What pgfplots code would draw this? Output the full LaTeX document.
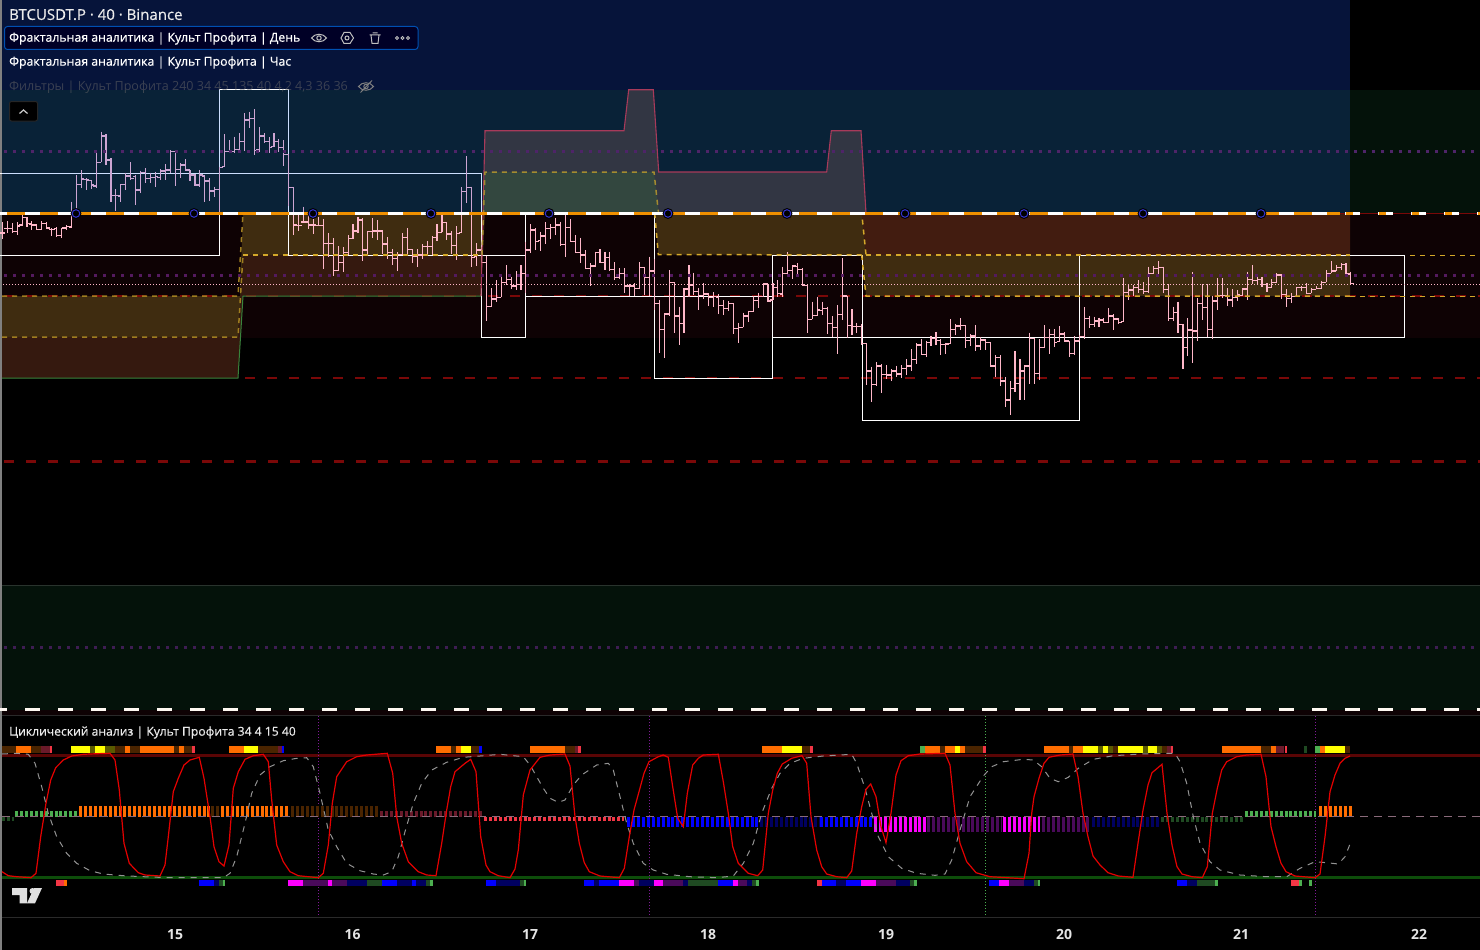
\documentclass[border=0pt]{standalone}
\usepackage{fontspec}
\setmainfont{Open Sans}
\newfontface\medf{Open Sans}[FakeBold=0.5]
\usepackage{pgfplots}
\usepackage{pgfplotstable}
\pgfplotsset{compat=1.18}

\definecolor{navy}{HTML}{06143A}
\definecolor{basetop}{HTML}{0C1307}
\definecolor{tint}{RGB}{0,97,250}
\definecolor{rightgreen}{HTML}{04120A}
\definecolor{maroon}{HTML}{0E0204}
\definecolor{botgreen}{HTML}{04120A}
\definecolor{olivez}{HTML}{3F2C10}
\definecolor{brownz}{HTML}{421C10}
\definecolor{brownl}{HTML}{35190F}
\definecolor{greyz}{HTML}{323643}
\definecolor{greenz}{HTML}{33473F}
\definecolor{edge}{HTML}{A83A5A}
\definecolor{dashy}{HTML}{D4A82A}
\definecolor{dred}{HTML}{7A0808}
\definecolor{dotp}{HTML}{4E2468}
\definecolor{dotq}{HTML}{541A5E}
\definecolor{midl}{HTML}{8A6A7A}
\definecolor{pinkbar}{HTML}{FFB7C9}
\definecolor{orangeL}{HTML}{F09000}
\definecolor{co}{HTML}{FF6D00}
\definecolor{cod}{HTML}{4A2400}
\definecolor{cy}{HTML}{FFFF00}
\definecolor{cyd}{HTML}{5A5A00}
\definecolor{cr}{HTML}{F23645}
\definecolor{crd}{HTML}{6A1A2A}
\definecolor{cg}{HTML}{4CAF50}
\definecolor{cgd}{HTML}{1F4A22}
\definecolor{cb}{HTML}{0000FF}
\definecolor{cbd}{HTML}{000060}
\definecolor{cm}{HTML}{FF00FF}
\definecolor{cmd}{HTML}{4A0A5A}
\definecolor{topred}{HTML}{5A0505}
\definecolor{botgr}{HTML}{0D4D0A}
\definecolor{sep}{HTML}{2A2A2A}

% OHLC bars: index, high, low, open, close (picture rows)
\pgfplotstableread{
i h l o c
0 222 239 233 233
1 221 233.3 228.3 228.3
2 223.3 232.7 228.3 231.7
3 222 235 231.7 226
4 214.7 226 225 217.3
5 217.3 226.7 217.3 223.3
6 221.3 230 224 225
7 224 230 225 229.3
8 221.3 230 229.3 223.3
9 222 229.3 223.3 228
10 228 236 229.3 229.3
11 227.3 236.7 228.3 235.3
12 228 238 235.7 228
13 225 230 228 226.7
14 201.7 228 227 212.7
15 175 212.7 212.7 184.3
16 170 188.3 184.3 179
17 178.3 190 179.3 180
18 180 189.3 180.7 185
19 153.3 188.3 186 162.3
20 131.7 162.3 162.3 136
21 134.3 165 136 160
22 158.3 201.7 160 195.7
23 189 211 195.7 195.7
24 184 202.3 196 184.7
25 172.7 190 184.7 176
26 162.3 180 176 178.3
27 175 205 176.7 190
28 170.7 192.7 190 172.7
29 168.3 183.3 172.7 178.7
30 172.7 182.7 178.7 177.3
31 171.7 187.3 177.3 176.7
32 169.3 180 177.3 171
33 164 180 171 170
34 150 172.7 170 151.7
35 150.7 186 151.7 169.3
36 163.3 177.7 169.3 165
37 159 171 165 170
38 170 180.7 170 175
39 174 186 175 185
40 170 187.3 185 175
41 175 201.7 176 181
42 178.3 200.7 181 191
43 186.7 196.7 191 189.3
44 167 212 189.3 167.7
45 134 166.7 166.7 151.7
46 140 153.3 151.7 151.7
47 136.7 153.3 151.7 149.3
48 133.3 153.3 149.3 141.7
49 113.3 150.7 141.7 120
50 111.7 128.3 120 118.3
51 109.3 155 118.3 150.7
52 127.3 151.7 150 136
53 133.3 143.3 136 141.7
54 137.3 153.3 141.7 147.3
55 133.3 147.3 146.7 141.7
56 139.3 151.7 141.7 147.3
57 140 165.7 147.3 154.3
58 154 206 154.3 187.3
59 187.3 235 187.3 225
60 215 231 225.3 225.3
61 206.7 222.7 222 222
62 215 229 222 225
63 219 234 225 225
64 217.3 225.3 225.3 225.3
65 219 269 225.3 243.3
66 233.3 256.7 243.3 243.3
67 238.3 276 243.3 270.7
68 246 270.7 270.7 262.3
69 247.3 271.7 262.3 252.7
70 235 255 252.7 238.3
71 224 239.3 238.3 231
72 217.3 233.3 231 220
73 218.3 261 220 250
74 231 255 250 231.7
75 218.3 238.3 231.7 231
76 220 240 231 231
77 230 254 231 244
78 237.3 259.3 244 252.3
79 249 265 252.3 258.3
80 252 270.7 258.3 254.7
81 233.3 255 254.7 237.3
82 228.3 254 237.3 249.3
83 249.3 262.7 249.3 256.7
84 249 266.7 256.7 255
85 244.3 259 255 246.7
86 241 255 246.7 246.7
87 236 255 246.7 237.3
88 224 240.7 237.3 232.3
89 215 232.3 232.3 222.3
90 222.3 240 222.3 234
91 231 254 234 245.3
92 226 260 245.3 233.3
93 187.3 232.7 232.7 191.3
94 156 202.7 191.3 187.3
95 186.7 266.7 187.3 257.3
96 243.3 266 256.7 250
97 246.7 262.7 250 262.7
98 256 320.7 262.7 306.7
99 288.3 306.7 306.7 299
100 280 302.3 299 297.3
101 275 297.3 297.3 282.3
102 265 285 282.3 279.3
103 277.3 289.3 279.3 286
104 271 290 286 284.3
105 265 290 284.3 273.3
106 241.7 293 273.3 250
107 224 252.7 250 230
108 228.3 250 230 241.7
109 231.7 250.7 240.7 236
110 222.3 244 236 228.3
111 224 239.3 228.3 227.3
112 218.3 235 227.3 225
113 221.7 246 225 244.3
114 206.7 256.7 244.3 227.3
115 219 242.3 227.3 241.7
116 235 252.3 241.7 252.3
117 237.7 262.7 252.3 255
118 250 269.3 255 268.3
119 263.3 285.7 268.3 266
120 251.7 266.7 266 252.7
121 249.3 263.3 252.7 262.3
122 251.7 270 262.3 257.3
123 251.7 270.7 257.3 269.3
124 262.3 280 269.3 277.3
125 268.3 279.3 277.3 273.3
126 268.3 292.7 273.3 286
127 284 296 286 286
128 283.3 296 286 288.3
129 262.3 288.3 288.3 267.3
130 266.7 295 267.3 277.3
131 256.7 296 277.3 271
132 259.3 310 271 303.3
133 300 352.7 303.3 329.3
134 313.3 357.7 329.3 314
135 270 316 314 282.3
136 282.3 332.7 282.3 316
137 306.7 345 316 323.3
138 288.3 332.7 323.3 289
139 265 296.7 289 285
140 272.7 295 285 291.7
141 288.3 310 291.7 295.7
142 283.3 299 295.7 294
143 293.3 306 294 297.3
144 292.3 306.7 297.3 296.7
145 294 314 297.3 305.7
146 300 315 305.7 308.3
147 301 310.7 308.3 303.3
148 303.3 334 303.3 328.3
149 322.7 342.7 328.3 327.3
150 312.7 327.3 327.3 316
151 310.7 321.7 316 311.7
152 296 311.7 311.7 300.7
153 292.7 308.3 300.7 296.7
154 284 297.3 296.7 284
155 284 301.7 284 301
156 283.3 300 300 287.3
157 280 296.7 287.3 293.3
158 266.7 296.7 294 273.3
159 252.3 273.3 273.3 270.7
160 265 279 270.7 266
161 263.3 275 266.7 269.3
162 268.3 285.7 269.3 285
163 285 332.7 285.7 319.3
164 301.7 319.3 319.3 315.7
165 296.7 316 315.7 310
166 301.7 315 310.7 308.3
167 306.7 334 308.3 323.3
168 316 337.3 323.3 327.3
169 305 354 327.3 314.3
170 258.3 320 314.3 296
171 296 338.3 296 325.7
172 309 335 325.7 326.7
173 322.7 332.7 326.7 326.7
174 324 345 326.7 343.3
175 343.3 385 343.3 371
176 366.7 401.7 371 384.3
177 362.3 386 384.3 366
178 364 392.7 366 374.3
179 365 379 374.3 375
180 369.3 380.7 375 371
181 365.7 377.3 371 374
182 365 378.3 374 368.3
183 359.3 375 368.3 366
184 349 370.7 366 359.3
185 343.3 364 359.3 345
186 339 355 345 354.3
187 340.7 356.7 354.3 342.7
188 335.7 346 342.7 338.3
189 332.3 345 338.3 340.7
190 339 355 340.7 344.3
191 342.7 354 344.3 344
192 319 344 343.3 329.3
193 324 335 329.3 326
194 318.3 330 326 325.3
195 325.3 347.7 325.3 340.7
196 334 345.7 340.7 336
197 325 351 336 346
198 337.3 350 346 340
199 339.3 350 340 342.3
200 342.3 366.7 342.3 366
201 355 376.7 366 357.3
202 355 386 357.3 381
203 377.3 407.3 381 400
204 381 415 400 388.3
205 351 391.7 388.3 383.3
206 359 400 383.3 371
207 365 400 371 366
208 332.7 384 366 338.3
209 338.3 384 338.3 373.3
210 339 380 373.3 347.3
211 325 346.7 347.3 337.7
212 329 354 337.7 334.3
213 329 346.7 334.3 342.3
214 326 341.7 341.7 334
215 332.3 341.7 334 341
216 340.7 356.7 341 353.3
217 336 355 353.3 341
218 335 341 341 336.7
219 307.3 339.3 336.7 318.3
220 315.7 328.3 318.3 324.3
221 316.7 327.3 324.3 321
222 317.7 326.7 321 320
223 318.3 323.3 320 322.3
224 308.3 321.7 322.3 316
225 314 330 316 319
226 318.3 324.3 319 322.7
227 278.3 321.7 321.7 292.3
228 284.3 300 292.3 290
229 285 295.7 290 287.7
230 280 293.3 287.7 289.3
231 282.3 294 289.3 291.7
232 266.7 292.7 291.7 273.3
233 266 274 273.3 268.3
234 261 275 268.3 267.3
235 266.7 292.7 267.3 289.3
236 284.3 320.7 289.3 318.3
237 306.7 321 318.3 312.7
238 301.7 332.7 312.7 324.3
239 324.3 369 324.3 347.3
240 318.3 356 347.3 330
241 272.3 362.7 330 331
242 298.3 340.7 331 303.3
243 284.3 320 303.3 307.3
244 284 337.3 307.3 329.3
245 295.7 339.3 329.3 301
246 278.3 310 301 295.7
247 278.3 297.7 295.7 295.7
248 288.3 305.7 295.7 300
249 289.3 306.7 300 297.3
250 290 300.7 297.3 295
251 288.3 295.7 295.7 289
252 271.7 300 289 279.3
253 265 284.3 279.3 280.7
254 276 285 280.7 279.3
255 277.3 286.7 279.3 284.3
256 283.3 291.7 284.3 287.3
257 279.3 287.3 287.3 282.3
258 273.3 283.3 282.3 275
259 275 299 275 294.3
260 289.3 306.7 294.3 298.3
261 293.3 302.7 298.3 296.7
262 286.7 296.7 296.7 287.7
263 286 290.7 287.7 287.3
264 283.3 293.3 287.3 293.3
265 287.7 293.3 293.3 289.3
266 286 289.3 289.3 288.3
267 280.7 289.3 288.3 282.3
268 270 282.3 282.3 273.3
269 261 273.3 273.3 271
270 265 271 271 267.3
271 263.3 270 267.3 264.3
272 263.3 274 264.3 274
273 271.7 284 274 283.3
}\bars

\newcommand\rf[5]{\addplot[fill=#1,draw=none] coordinates {(#2,#3)(#4,#3)(#4,#5)(#2,#5)} --cycle;}
\newcommand\boxr[4]{\addplot[draw=white,line width=1pt] coordinates {(#1,#2)(#3,#2)(#3,#4)(#1,#4)} --cycle;}
\newcommand\tops[3]{\addplot[draw=#1,line width=6.5pt] coordinates {(#2,749.5)(#3,749.5)};}
\newcommand\bots[3]{\addplot[draw=#1,line width=6.3pt] coordinates {(#2,882.7)(#3,882.7)};}
% histogram runs: colour, first, last, mid row, thickness
\newcommand\hist[5]{\addplot[draw=#1,line width=#5pt,dash pattern=on 3pt off 1.94pt] coordinates {(#2,#4)(#3,#4)};}

\begin{document}
\begin{tikzpicture}
\begin{axis}[
    scale only axis,
    width=1480pt,
    height=950pt,
    xmin=0, xmax=1480,
    ymin=0, ymax=950,
    y dir=reverse,
    hide axis,
    no markers,
    line join=miter,
]
% panes
\rf{black}{0}{0}{1480}{950}
\rf{navy}{2}{0}{1350}{90}
\rf{basetop}{2}{90}{1350}{213}
\rf{rightgreen}{1350}{90}{1480}{213}
\rf{maroon}{2}{213}{1480}{338}
\rf{botgreen}{2}{585}{1480}{710}
\rf{maroon}{2}{710}{1480}{715}
\rf{gray}{0}{0}{2}{950}
\addplot[draw=sep,line width=1pt] coordinates {(2,715.5)(1480,715.5)};
\addplot[draw=sep,line width=1pt] coordinates {(2,917.5)(1480,917.5)};
\addplot[draw=rightgreen!70!gray,line width=.5pt] coordinates {(2,585)(1480,585)};

% zones under the price
\addplot[fill=brownl,draw=none] coordinates {(2,378)(238,378)(243,296)(481,296)(483,255)(243,255)(238,337)(2,337)} --cycle;
\addplot[fill=olivez,draw=none] coordinates {(2,337)(238,337)(243,255)(483,255)(485,213)(243,213)(240,296)(2,296)} --cycle;
\addplot[fill=olivez,draw=none] coordinates {(654.7,213)(658.3,254.5)(866,255)(861.7,213)} --cycle;
\addplot[fill=brownz,draw=none] coordinates {(861.7,213)(866,255)(1350,255)(1350,213)} --cycle;
\addplot[fill=olivez,draw=none] coordinates {(862,255)(866,296)(1350,296)(1350,255)} --cycle;

% red levels
\addplot[draw=dred,line width=1.5pt,dash pattern=on 10pt off 12pt] coordinates {(4,296)(1480,296)};
\addplot[draw=dred,line width=1.5pt,dash pattern=on 10pt off 12pt] coordinates {(245,378)(1480,378)};
\addplot[draw=dred,line width=2.2pt,dash pattern=on 10pt off 12pt] coordinates {(4,461.5)(1480,461.5)};
\addplot[draw=cg!75!black,line width=1pt] coordinates {(2,378)(238,378)(243,296)(481,296)};

% fractal boxes
\boxr{-5}{173}{219.3}{255}
\boxr{219.3}{89.7}{288.5}{173}
\boxr{288.5}{173}{481.7}{255}
\boxr{481.7}{255}{525.5}{337}
\boxr{525.5}{213}{654.5}{296}
\boxr{654.5}{296}{772.5}{378}
\boxr{772.5}{255}{862}{337}
\boxr{862}{337}{1079}{420}
\boxr{1079}{255}{1404}{337}

% OHLC bars
\addplot[draw=none,error bars/.cd,y dir=plus,y explicit,error mark=none,error bar style={draw=pinkbar,line width=1.1pt}]
  table[x expr={2.3+4.94*\thisrow{i}},y=h,y error expr={\thisrow{l}-\thisrow{h}}] {\bars};
\addplot[draw=none,error bars/.cd,x dir=minus,x fixed=2.9,error mark=none,error bar style={draw=pinkbar,line width=1.1pt}]
  table[x expr={2.3+4.94*\thisrow{i}},y=o] {\bars};
\addplot[draw=none,error bars/.cd,x dir=plus,x fixed=2.9,error mark=none,error bar style={draw=pinkbar,line width=1.1pt}]
  table[x expr={2.3+4.94*\thisrow{i}},y=c] {\bars};

% tint over the upper zone
\addplot[fill=tint,fill opacity=.2,draw=none] coordinates {(2,90)(1350,90)(1350,213)(2,213)} --cycle;

% upper polygons
\addplot[fill=greyz,draw=none] coordinates {(483,213)(485,130.7)(624,130.7)(628.7,89.7)(653.3,89.7)(658.7,172)(826.7,172)(831.3,130.7)(861,130.7)(866,213)} --cycle;
\addplot[fill=greenz,draw=none] coordinates {(483.3,213)(485,172)(654,172)(658.7,213)} --cycle;
\addplot[draw=edge,line width=1.1pt] coordinates {(481,296)(485,130.7)(624,130.7)(628.7,89.7)(653.3,89.7)(658.7,172)(826.7,172)(831.3,130.7)(861,130.7)(866,213)};

% yellow dashed channels
\addplot[draw=dashy!75!black,line width=1.5pt,dash pattern=on 5pt off 5pt] coordinates {(2,337)(238,337)(243,255)};
\addplot[draw=dashy!75!black,line width=1.5pt,dash pattern=on 5pt off 5pt] coordinates {(2,296)(238,296)(243,213)};
\addplot[draw=dashy,line width=1.5pt,dash pattern=on 5pt off 5pt] coordinates {(243,255)(482,255)};
\addplot[draw=dashy!70!greenz,line width=1.5pt,dash pattern=on 5pt off 5pt] coordinates {(482,255)(485,172)(654,172)(658.5,213)};
\addplot[draw=dashy,line width=1.5pt,dash pattern=on 5pt off 5pt] coordinates {(654.7,213)(658.3,254.5)(866,255)(861.7,213)};
\addplot[draw=dashy,line width=1.5pt,dash pattern=on 5pt off 5pt] coordinates {(866,255)(1350,255)};
\addplot[draw=dashy,line width=1.5pt,dash pattern=on 5pt off 5pt] coordinates {(861.7,255)(866,296)(1350,296)};
\addplot[draw=dashy,line width=1pt,dash pattern=on 5pt off 5pt] coordinates {(1410,255.5)(1480,255.5)};
\addplot[draw=dashy,line width=1pt,dash pattern=on 5pt off 5pt] coordinates {(1350,296.5)(1480,296.5)};

% dotted levels
\addplot[draw=dotp,line width=3pt,dash pattern=on 3pt off 6pt] coordinates {(4,151.5)(1480,151.5)};
\addplot[draw=dotq,line width=3pt,dash pattern=on 3pt off 6pt] coordinates {(4,275.5)(1480,275.5)};
\addplot[draw=dotp!80!black,line width=3pt,dash pattern=on 3pt off 6pt] coordinates {(4,647.5)(1480,647.5)};
\addplot[draw=pinkbar,line width=.8pt,dash pattern=on 1pt off 2pt] coordinates {(3,284.5)(1480,284.5)};

% main level and its markers
\addplot[draw=dred,line width=1pt] coordinates {(1340,213.5)(1480,213.5)};
\addplot[draw=white,line width=3pt,dash pattern=on 15pt off 18pt] coordinates {(-8,213.5)(1480,213.5)};
\addplot[draw=orangeL,line width=3pt,dash pattern=on 18pt off 15pt] coordinates {(7,213.5)(1340,213.5)};
\addplot[draw=orangeL,line width=3pt,dash pattern=on 7pt off 26pt] coordinates {(1346,213.5)(1480,213.5)};
\addplot[only marks,mark=o,mark size=4.8pt,mark options={draw=black,line width=1.2pt}] coordinates {(76,213.5)(194,213.5)(313,213.5)(431,213.5)(549,213.5)(668,213.5)(787,213.5)(905,213.5)(1024,213.5)(1143,213.5)(1261,213.5)};
\addplot[only marks,mark=o,mark size=3.8pt,mark options={draw=blue!60!gray,line width=1pt}] coordinates {(76,213.5)(194,213.5)(313,213.5)(431,213.5)(549,213.5)(668,213.5)(787,213.5)(905,213.5)(1024,213.5)(1143,213.5)(1261,213.5)};

% bottom level
\addplot[draw=white!95!orange,line width=3pt,dash pattern=on 15pt off 18pt] coordinates {(-8,709.5)(1480,709.5)};

% --- oscillator pane ---
\addplot[draw=topred,line width=3pt] coordinates {(2,755)(1480,755)};
\addplot[draw=botgr,line width=3pt] coordinates {(2,877)(1480,877)};
\addplot[draw=purple!60!blue!90!white,line width=1pt,dash pattern=on 1pt off 2pt] coordinates {(318.5,716)(318.5,915)};
\addplot[draw=purple!60!blue!90!white,line width=1pt,dash pattern=on 1pt off 2pt] coordinates {(649.5,716)(649.5,915)};
\addplot[draw=cg,line width=1pt,dash pattern=on 1pt off 2pt] coordinates {(985.5,716)(985.5,915)};
\addplot[draw=purple!60!blue!90!white,line width=1pt,dash pattern=on 1pt off 2pt] coordinates {(1315.5,716)(1315.5,915)};

\hist{cgd}{2}{14}{818.75}{4.5}
\hist{cg}{15}{78}{813.75}{5.5}
\hist{co}{79}{210}{811.25}{10.5}
\hist{cod}{211}{220}{811.25}{10.5}
\hist{co}{221}{290}{811.25}{10.5}
\hist{cod}{291}{378}{811.25}{10.5}
\hist{crd}{380}{482}{813.75}{5.5}
\hist{cr}{484}{624}{818.75}{4.5}
\hist{cb}{627}{760}{821.75}{10.5}
\hist{cbd}{760}{820}{821.75}{10.5}
\hist{cb}{820}{873}{821.75}{10.5}
\hist{cm}{874}{927}{824.25}{15.5}
\hist{cmd}{927}{1002}{824.25}{15.5}
\hist{cm}{1003}{1040}{824.25}{15.5}
\hist{cmd}{1042}{1090}{824.25}{15.5}
\hist{cbd}{1092}{1160}{821.75}{10.5}
\hist{cgd}{1161}{1243}{819.25}{5.5}
\hist{cg}{1245}{1316}{813.75}{5.5}
\hist{co}{1319}{1353}{811.25}{10.5}
\addplot[draw=midl,line width=1pt,dash pattern=on 8pt off 6pt] coordinates {(2,816.5)(1480,816.5)};

% upper strip
\tops{cod}{2}{16}\tops{co}{16}{31}\tops{cod}{31}{41}\tops{crd}{41}{50}\tops{cr}{50}{52}
\tops{cy}{71}{90}\tops{cyd}{90}{95}\tops{cy}{95}{105}\tops{cyd}{105}{115}\tops{cod}{115}{125}\tops{co}{125}{130}\tops{cod}{130}{140}\tops{co}{140}{174}\tops{cod}{174}{179}\tops{co}{179}{184}\tops{cod}{184}{192}\tops{cr}{192}{195}
\tops{co}{229}{244}\tops{cy}{244}{258}\tops{cod}{258}{278}\tops{crd}{278}{282}\tops{cb}{282}{284}
\tops{co}{436}{451}\tops{cod}{451}{456}\tops{co}{456}{461}\tops{cy}{461}{471}\tops{cod}{471}{479}\tops{cb}{479}{482}
\tops{co}{530}{565}\tops{cod}{565}{575}\tops{crd}{575}{578}\tops{cr}{578}{581}
\tops{co}{762}{782}\tops{cy}{782}{802}\tops{cod}{802}{810}\tops{cr}{810}{813}
\tops{cg}{920}{925}\tops{co}{925}{940}\tops{cod}{940}{945}\tops{co}{945}{955}\tops{cy}{955}{960}\tops{co}{960}{965}\tops{cod}{965}{983}\tops{cr}{983}{986}
\tops{co}{1044}{1069}\tops{cod}{1069}{1073}\tops{co}{1073}{1083}\tops{cy}{1083}{1098}\tops{cyd}{1098}{1103}\tops{cy}{1103}{1108}\tops{cyd}{1108}{1113}\tops{cod}{1113}{1118}\tops{cy}{1118}{1143}\tops{cyd}{1143}{1148}\tops{cy}{1148}{1157}\tops{cyd}{1157}{1162}\tops{cod}{1162}{1167}\tops{crd}{1167}{1171}\tops{cr}{1171}{1173}
\tops{co}{1222}{1261}\tops{cod}{1261}{1271}\tops{co}{1271}{1276}\tops{crd}{1276}{1284}\tops{cr}{1285}{1287}
\tops{cgd}{1304}{1307}\tops{cg}{1315}{1320}\tops{co}{1320}{1325}\tops{cy}{1325}{1345}\tops{cod}{1345}{1350}

% lower strip
\bots{cr}{56}{64}\bots{co}{64}{67}
\bots{cb}{199}{214}\bots{cbd}{214}{219}\bots{cgd}{219}{223}\bots{cg}{223}{225}
\bots{cm}{288}{303}\bots{cmd}{303}{328}\bots{cm}{328}{332}\bots{cmd}{332}{347}\bots{cbd}{347}{367}\bots{cgd}{367}{382}\bots{cb}{382}{397}\bots{cbd}{397}{412}\bots{cb}{412}{416}\bots{cbd}{416}{426}\bots{cgd}{426}{430}\bots{cg}{430}{433}
\bots{cb}{486}{496}\bots{cbd}{496}{520}\bots{cgd}{520}{524}\bots{cg}{524}{526}
\bots{cb}{584}{594}\bots{cbd}{594}{599}\bots{cb}{599}{619}\bots{cm}{619}{634}\bots{cmd}{634}{639}\bots{cbd}{639}{654}\bots{cm}{654}{663}\bots{cmd}{663}{683}\bots{cbd}{683}{688}\bots{cgd}{688}{718}\bots{cb}{718}{733}\bots{cm}{733}{738}\bots{cmd}{738}{747}\bots{cbd}{747}{752}\bots{cgd}{752}{756}\bots{cg}{756}{759}
\bots{cr}{817}{822}\bots{cb}{822}{836}\bots{cbd}{836}{846}\bots{cb}{846}{861}\bots{cm}{861}{876}\bots{cmd}{876}{896}\bots{cbd}{896}{910}\bots{cgd}{910}{914}\bots{cg}{914}{917}
\bots{cb}{989}{999}\bots{cm}{999}{1009}\bots{cmd}{1009}{1024}\bots{cbd}{1024}{1034}\bots{cgd}{1034}{1038}\bots{cg}{1038}{1040}
\bots{cb}{1177}{1187}\bots{cbd}{1187}{1197}\bots{cgd}{1197}{1215}\bots{cg}{1215}{1218}
\bots{cr}{1291}{1299}\bots{cg}{1299}{1302}\bots{cg}{1309}{1312}

% slow line
\addplot[draw=gray!85!white,line width=1pt,dash pattern=on 6pt off 6pt] coordinates {
(2,754)(16.7,753.3)(28.3,754.3)(35,763.3)(41.7,786.7)(48.3,813.3)(56.7,836.7)(66.7,853.3)(76.7,863.3)(90,870.7)(103.3,874)(123.3,875.7)(143.3,876.7)(170,877.7)(196.7,877.7)(223.3,877.7)(230,873.3)(236.7,856.7)(245,823.3)(251.7,793.3)(260,775)(270,766.7)(283.3,760.7)(296.7,758.3)(306.7,757.7)(313.3,766.7)(320,793.3)(328.3,830)(336.7,846.7)(346.7,863.3)(360,870.7)(373.3,874)(383.3,875)(391.7,871.7)(398.3,856.7)(405,831.7)(413.3,803.3)(421.7,783.3)(431.7,770)(446.7,762.3)(463.3,757.3)(480,756)(500,754.3)
(523.3,756.7)(530,765)(536.7,776.7)(543.3,788.3)(550,798.3)(558.3,802.3)(565,800)(573.3,785)(581.7,775)(596.7,765)(608.3,763.3)(613.3,770)(620,796.7)(626.7,823.3)(633.3,843.3)(643.3,863.3)(653.3,870)(666.7,874.3)(690,876.7)(716.7,877.7)(733.3,876)(743.3,863.3)(753.3,843.3)(761.7,813.3)(771.7,788.3)(780,773.3)(790,763.3)(803.3,758.3)(823.3,756)(851.7,754.3)(856.7,763.3)(865,788.3)(871.7,813.3)(878.3,836.7)(888.3,856.7)(901.7,868.3)(916.7,873.3)(935,875.3)(945,874)(951.7,860)(960,830)(970,796.7)(983.3,776)
(991.7,766.7)(1003.3,761.7)(1023.3,759.3)(1033.3,760)(1041.7,766.7)(1050,778.3)(1058.3,781.7)(1068.3,777.3)(1078.3,768.3)(1093.3,759.3)(1113.3,755.7)(1140,754)(1175,753.3)(1180,761.7)(1186.7,783.3)(1193.3,816.7)(1200,843.3)(1210,861.7)(1220,870)(1240,875)(1266.7,876.7)(1286.7,876.7)(1300,868.3)(1315,861.7)(1326.7,862.7)(1338.3,864)(1345,856.7)(1350,844)};

% fast line
\addplot[draw=red!90!black,line width=1.2pt] coordinates {
(2,871.7)(8.3,875.7)(16.7,876.7)(31,877.7)(36,873.3)(40.7,836.7)(46,803.3)(50.7,780)(55.7,767.7)(63.3,760)(71.7,756)(83.3,754.3)(96.7,753.7)(110,753.3)(115,760)(119.3,790)(124,843.3)(129.3,863.3)(138.3,872.7)(145,875)(160,876)(165,865)(168.3,836.7)(173.3,791.7)(178.3,778.3)(184,765)(190,760)(199.3,757.3)(204,778.3)(210,816.7)(214,846.7)(219,861.7)(224,866)(229,845)(233.3,788.3)(238.3,771.7)(245,759.3)(253.3,755.7)(263.3,754.3)(268.3,761.7)(271.7,800)(276.7,845)(283.3,861.7)(290,871.7)(298.3,875.7)(318.3,877.7)(323.3,873.3)(328.3,845)(332.3,803.3)(336.7,776.7)(346.7,761.7)(356.7,756.7)(366.7,755)(387.3,753.3)(392.7,773.3)(396.7,816.7)(401.7,843.3)(408.3,861.7)(418.3,871.7)(426.7,875)(436,875.7)(441.7,843.3)(446.7,810)(450.7,786.7)(455,771.7)(465,763.3)(470.7,759.3)(476,771.7)(480.7,836.7)(486,865)(490,871.7)
(498.3,875.7)(510,877.7)(515,869)(518.3,850)(523.3,795)(530,770)(540,757.3)(550,755)(565,754)(570,766)(575,816.7)(579.3,843.3)(584.3,862.7)(589.3,871.7)(600,876)(619.3,877.7)(624.3,868.3)(629.3,836.7)(634,810)(639,791.7)(644,773.3)(649,761.7)(658.3,756.7)(663.3,755)(668.3,757.3)(672.7,786.7)(677.7,818.3)(683.3,826.7)(687.3,793.3)(692.7,765)(698.3,758.3)(703.3,755)(718.3,754.3)(723.3,781.7)(728.3,813.3)(732.7,846.7)(738.3,863.3)(748.3,873.3)(757.7,875.7)(762.7,870)(768.3,813.3)(772.7,790)(777.3,773.3)(782.3,764)(791.7,758.3)(802,755.7)(806.7,763.3)(811,816.7)(816.7,850)(821.7,866.7)(826.7,874)(836.7,876.7)(846.7,877.7)(851.7,871)(856.7,833.3)(861.7,806.7)(866,789.3)(870.7,784)(876,796.7)(881,826.7)(886,842.7)(891,813.3)(896,775)(901,760.7)(908.3,755.7)(920,754)(945,753.3)(950,765)(955,813.3)(960,843.3)(966.7,861.7)(976,872.7)(990,876.7)
(1024,878.7)(1029,853.3)(1031.7,813.3)(1034,796.7)(1039,778.3)(1044,763.3)(1049,757.3)(1060,755)(1073,754)(1078,776.7)(1083,813.3)(1088,836.7)(1093,856)(1100,865)(1108,872.7)(1118.3,876)(1133,877.3)(1138,843.3)(1143,810)(1148,785)(1152,772.7)(1162,764.3)(1167,813.3)(1172,845)(1177,866.7)(1182,874)(1192,876.7)(1202.3,877.7)(1207.3,866.7)(1212.3,813.3)(1217.3,788.3)(1221.7,770)(1226.7,761.7)(1236.7,756.7)(1246.7,755)(1261,754.3)(1266,776.7)(1271,826.7)(1276,846.7)(1281,863.3)(1286,871.7)(1295,876)(1315,877.7)(1320,874)(1325,836.7)(1330,791.7)(1335,775)(1340,763.3)(1345,758.3)(1350,756)};

% --- header texts and controls ---
\node[anchor=west,inner sep=0pt,text=white!92!black,font=\medf\fontsize{15}{17}\selectfont] at (axis cs:9,14.5) {BTCUSDT.P · 40 · Binance};
\draw[draw=blue!55!cyan!70!black,fill=black!85!blue,rounded corners=3pt,line width=1pt] (axis cs:4.5,26.5) rectangle (axis cs:418,49.5);
\node[anchor=west,inner sep=0pt,text=white,font=\medf\fontsize{12.3}{14}\selectfont] at (axis cs:9,38.5) {Фрактальная аналитика | Культ Профита | День};
\node[anchor=west,inner sep=0pt,text=white,font=\medf\fontsize{12.3}{14}\selectfont] at (axis cs:9,62.5) {Фрактальная аналитика | Культ Профита | Час};
\node[anchor=west,inner sep=0pt,text=black!60!white,opacity=.55,font=\fontsize{12.55}{14}\selectfont] at (axis cs:9,87) {Фильтры | Культ Профита 240 34 45 135 40 4,2 4,3 36 36};
\node[anchor=west,inner sep=0pt,text=white!92!black,font=\medf\fontsize{12.15}{14}\selectfont] at (axis cs:9,732.5) {Циклический анализ | Культ Профита 34 4 15 40};
% icons
\draw[draw=white!75!black,line width=1pt] (axis cs:311.5,38) .. controls (axis cs:315,33) and (axis cs:323,33) .. (axis cs:326.5,38) .. controls (axis cs:323,43) and (axis cs:315,43) .. (axis cs:311.5,38) -- cycle;
\draw[draw=white!75!black,line width=1pt] (axis cs:319,38) circle (2.2pt);
\draw[draw=white!75!black,line width=1pt] (axis cs:341,38) -- (axis cs:344,32.5) -- (axis cs:350,32.5) -- (axis cs:353.5,38) -- (axis cs:350,43.5) -- (axis cs:344,43.5) -- cycle;
\draw[draw=white!75!black,line width=1pt] (axis cs:347,38) circle (2pt);
\draw[draw=white!75!black,line width=1pt] (axis cs:369.5,35) -- (axis cs:380.5,35) (axis cs:372.5,33) -- (axis cs:377.5,33) (axis cs:371,35) -- (axis cs:372,43.5) -- (axis cs:378,43.5) -- (axis cs:379,35);
\draw[draw=white!75!black,line width=1pt] (axis cs:397,38) circle (1.5pt) (axis cs:402.5,38) circle (1.5pt) (axis cs:408,38) circle (1.5pt);
\draw[draw=white!50!black,line width=1pt] (axis cs:358.5,86.5) .. controls (axis cs:362,81.5) and (axis cs:370,81.5) .. (axis cs:373.5,86.5) .. controls (axis cs:370,91.5) and (axis cs:362,91.5) .. (axis cs:358.5,86.5) -- cycle;
\draw[draw=white!50!black,line width=1pt] (axis cs:366,86.5) circle (2.2pt);
\draw[draw=white!50!black,line width=1pt] (axis cs:360.5,92.5) -- (axis cs:372,80.5);
\draw[draw=white!15!black,fill=black,rounded corners=2pt,line width=1pt] (axis cs:9.5,101.5) rectangle (axis cs:37.5,121);
\draw[draw=white!80!black,line width=1.2pt] (axis cs:19.5,113.5) -- (axis cs:23.5,110) -- (axis cs:27.5,113.5);
% logo
\fill[white!88!black] (axis cs:12,888) -- (axis cs:27,888) -- (axis cs:27,903.3) -- (axis cs:19.5,903.3) -- (axis cs:19.5,895) -- (axis cs:12,895) -- cycle;
\fill[white!88!black] (axis cs:32.5,891) circle (3pt);
\fill[white!88!black] (axis cs:34,888) -- (axis cs:42,888) -- (axis cs:35,903.3) -- (axis cs:27,903.3) -- cycle;
% day labels
\node[text=white!90!black,inner sep=0pt,font=\fontsize{14}{16}\bfseries\selectfont] at (axis cs:175,934.5) {15};
\node[text=white!90!black,inner sep=0pt,font=\fontsize{14}{16}\bfseries\selectfont] at (axis cs:352.5,934.5) {16};
\node[text=white!90!black,inner sep=0pt,font=\fontsize{14}{16}\bfseries\selectfont] at (axis cs:530,934.5) {17};
\node[text=white!90!black,inner sep=0pt,font=\fontsize{14}{16}\bfseries\selectfont] at (axis cs:708,934.5) {18};
\node[text=white!90!black,inner sep=0pt,font=\fontsize{14}{16}\bfseries\selectfont] at (axis cs:886,934.5) {19};
\node[text=white!90!black,inner sep=0pt,font=\fontsize{14}{16}\bfseries\selectfont] at (axis cs:1064,934.5) {20};
\node[text=white!90!black,inner sep=0pt,font=\fontsize{14}{16}\bfseries\selectfont] at (axis cs:1241,934.5) {21};
\node[text=white!90!black,inner sep=0pt,font=\fontsize{14}{16}\bfseries\selectfont] at (axis cs:1419,934.5) {22};
\end{axis}
\end{tikzpicture}
\end{document}
